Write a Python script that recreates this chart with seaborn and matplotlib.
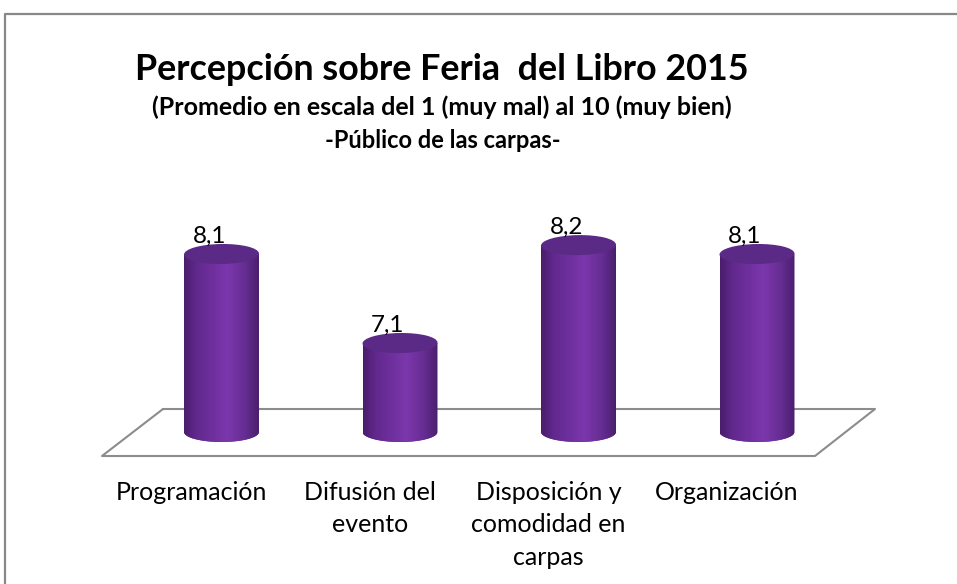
import numpy as np
import matplotlib
matplotlib.use("Agg")
import matplotlib.pyplot as plt
import seaborn as sns
import pandas as pd
from matplotlib.patches import Ellipse
from matplotlib.path import Path
from matplotlib.lines import Line2D
from matplotlib.colors import LinearSegmentedColormap
from matplotlib.transforms import ScaledTranslation

# ---- data ----
categories = ["Programación", "Difusión del\nevento",
              "Disposición y\ncomodidad en\ncarpas", "Organización"]
values = [8.1, 7.1, 8.2, 8.1]
title = "Percepción sobre Feria  del Libro 2015"
subtitle1 = "(Promedio en escala del 1 (muy mal) al 10 (muy bien)"
subtitle2 = "-Público de las carpas-"

sns.set_theme(style="white")
plt.rcParams['font.family'] = ['Lato', 'DejaVu Sans']

W, H = 957, 584
fig = plt.figure(figsize=(W / 100, H / 100), dpi=100)


def fx(px):
    return px / W


def fy(py):
    return 1 - py / H


ax_left, ax_right = 132.25, 846.25
ax_top, ax_bot = 150, 460
ax = fig.add_axes([fx(ax_left), fy(ax_bot), (ax_right - ax_left) / W,
                   (ax_bot - ax_top) / H])

df = pd.DataFrame({"cat": categories, "val": values})
sns.barplot(data=df, x="cat", y="val", color="#7030A0", width=0.42,
            saturation=1, ax=ax, zorder=1)

base = 6.1          # floor level of the 3D chart
base_px = 432
ppu = 89.0          # pixels per unit
ylim = (base - (ax_bot - base_px) / ppu, base + (base_px - ax_top) / ppu)
xlim = (-0.5, 3.5)

cmap = LinearSegmentedColormap.from_list(
    "cyl", [(0, "#4a1d6b"), (0.18, "#62298f"), (0.58, "#7b37ac"),
            (0.82, "#652d92"), (1, "#4a1f6c")])
grad = np.linspace(0, 1, 256)[None, :]
ry = 10 / ppu

for p, v in zip(ax.patches, values):
    x0, w = p.get_x(), p.get_width()
    xc = x0 + w / 2
    t = np.linspace(np.pi, 2 * np.pi, 60)
    verts = [(x0, v), (x0, base)] + list(zip(xc + w / 2 * np.cos(t), base + ry * np.sin(t))) \
        + [(x0 + w, v), (x0, v)]
    codes = [Path.MOVETO] + [Path.LINETO] * (len(verts) - 2) + [Path.CLOSEPOLY]
    path = Path(verts, codes)
    p.set_clip_path(path, ax.transData)
    p.set_edgecolor("none")
    im = ax.imshow(grad, cmap=cmap, aspect="auto", extent=[x0, x0 + w, base - 2 * ry, v],
                   zorder=1.5, interpolation="bilinear")
    im.set_clip_path(path, ax.transData)
    cap = Ellipse((xc, v), w, 2 * ry, angle=2, facecolor="#5a2a86", edgecolor="none", zorder=2)
    ax.add_patch(cap)
    ax.annotate(f"{v:.1f}".replace(".", ","), (xc, v), xytext=(-12 * 0.72, 11 * 0.72),
                textcoords="offset points", ha="center", va="baseline",
                fontsize=17.5, color="black", zorder=3)

ax.set_xlim(*xlim)
ax.set_ylim(*ylim)
ax.axis("off")

# category labels
lab_tr = ax.get_xaxis_transform() + ScaledTranslation(-30 / 100, 0, fig.dpi_scale_trans)
for i, c in enumerate(categories):
    ax.text(i, (ax_bot - 481) / (ax_bot - ax_top), c, transform=lab_tr, ha="center",
            va="top", fontsize=18, color="black", linespacing=1.5,
            clip_on=False)

# floor parallelogram
floor_x = [163, 875, 815, 102, 163]
floor_y = [409, 409, 456, 456, 409]
ax.add_line(Line2D([fx(x) for x in floor_x], [fy(y) for y in floor_y],
                   transform=fig.transFigure, color="#8c8c8c", lw=1.5,
                   clip_on=False, zorder=0.5))

# chart border (left and top visible)
fig.add_artist(Line2D([fx(5), fx(5), fx(960)], [fy(600), fy(14), fy(14)],
                      color="#888888", lw=1.6))

# titles
fig.text(fx(442), fy(70), title, ha="center", va="center", fontsize=25.8,
         fontweight="bold", color="black")
fig.text(fx(442), fy(107), subtitle1, ha="center", va="center", fontsize=18,
         fontweight="bold", color="black")
fig.text(fx(443), fy(140), subtitle2, ha="center", va="center", fontsize=17,
         fontweight="bold", color="black")

fig.savefig("out.png", dpi=100)
